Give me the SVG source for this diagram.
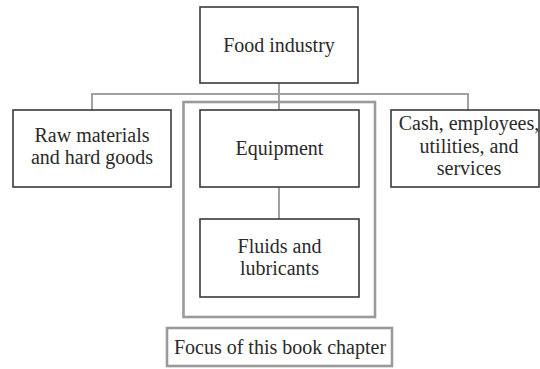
<svg xmlns="http://www.w3.org/2000/svg" width="540" height="369" viewBox="0 0 540 369">
<style>
.box{fill:#fff;stroke:#3a3a3a;stroke-width:1.6}
.focus{fill:none;stroke:#9a9a9a;stroke-width:2.6}
.conn{fill:none;stroke:#a0a0a0;stroke-width:2}
text{font-family:"Liberation Serif","DejaVu Serif",serif;font-size:20px;fill:#2a2a2a;text-anchor:middle}
</style>
<rect width="540" height="369" fill="#fff"/>
<g id="connectors">
<polyline class="conn" points="92,110 92,94 468,94 468,110"/>
<line class="conn" x1="279" y1="83" x2="279" y2="110"/>
<line class="conn" x1="279" y1="187" x2="279" y2="219"/>
</g>
<g id="focus-area">
<rect class="focus" x="183.5" y="102" width="191.5" height="215"/>
</g>
<g id="food-industry">
<rect class="box" x="200" y="7" width="158" height="76"/>
<text x="279" y="52">Food industry</text>
</g>
<g id="raw-materials">
<rect class="box" x="13" y="110" width="158" height="77"/>
<text x="92" y="142">Raw materials</text>
<text x="92" y="164">and hard goods</text>
</g>
<g id="equipment">
<rect class="box" x="200" y="110" width="159" height="77"/>
<text x="279.5" y="155">Equipment</text>
</g>
<g id="cash">
<rect class="box" x="391" y="110" width="148" height="77"/>
<text x="469" y="130">Cash, employees,</text>
<text x="469" y="153">utilities, and</text>
<text x="469" y="175">services</text>
</g>
<g id="fluids">
<rect class="box" x="200" y="219" width="159" height="78"/>
<text x="279.5" y="253">Fluids and</text>
<text x="279.5" y="275">lubricants</text>
</g>
<g id="focus-label">
<rect class="focus" x="167" y="328" width="225" height="38"/>
<text x="280" y="354">Focus of this book chapter</text>
</g>
</svg>
